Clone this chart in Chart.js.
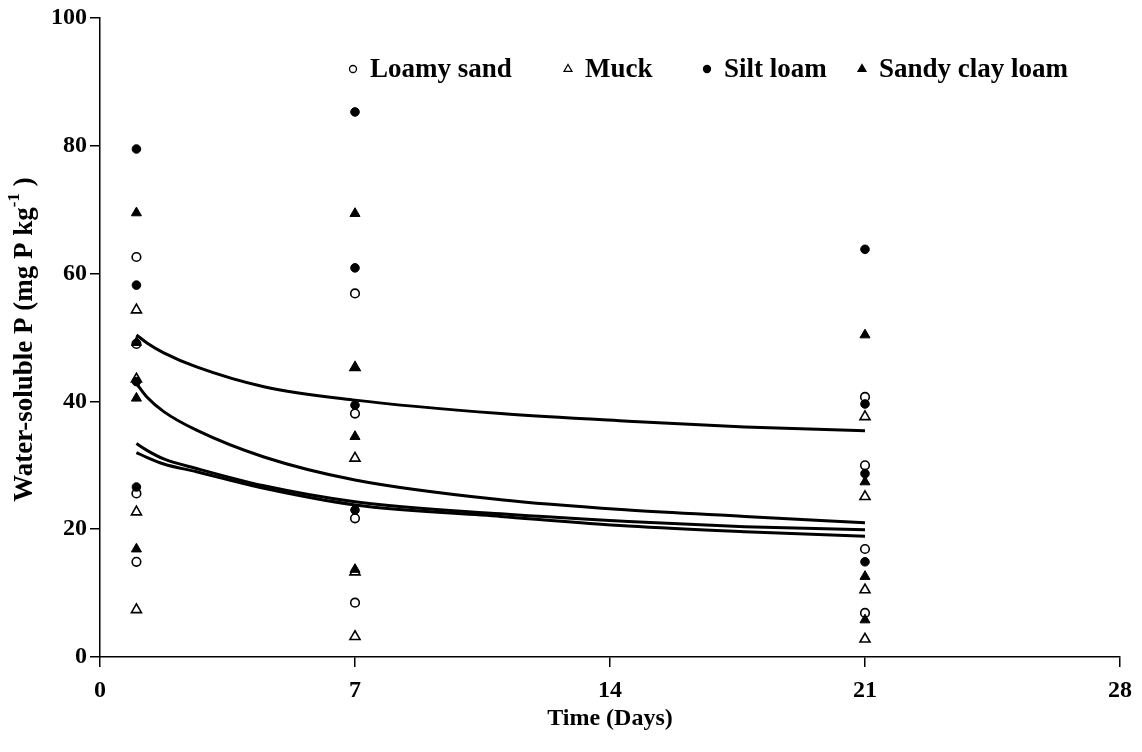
<!DOCTYPE html>
<html>
<head>
<meta charset="utf-8">
<title>Water-soluble P over time</title>
<script src="https://cdn.jsdelivr.net/npm/chart.js@4.4.1/dist/chart.umd.min.js"></script>
<style>
  html, body { margin: 0; padding: 0; background: #fff; }
  #wrap { width: 1142px; height: 752px; }
</style>
</head>
<body>
<div id="wrap"><canvas id="c" width="1142" height="752"></canvas></div>
<script>
// Sampling days
const days = [1, 7, 21];

// Replicate measurements (mg P kg-1) per soil, one array per sampling day
const loamySand1 = [62.6, 49.0, 25.6, 14.9];
const loamySand7 = [56.9, 38.1, 21.7, 8.5];
const loamySand21 = [40.7, 30.0, 16.9, 6.9];

const muck1 = [54.3, 43.5, 22.7, 7.4];
const muck7 = [45.3, 31.1, 13.3, 3.2];
const muck21 = [37.6, 25.1, 10.5, 2.8];

const siltLoam1 = [79.5, 58.2, 43.1, 26.6];
const siltLoam7 = [85.3, 60.9, 39.4, 23.0];
const siltLoam21 = [63.8, 39.6, 28.7, 14.9];

const sandyClayLoam1 = [69.5, 49.2, 40.5, 16.9];
const sandyClayLoam7 = [69.4, 45.3, 34.5, 13.7];
const sandyClayLoam21 = [50.4, 27.4, 12.6, 5.8];

// Fitted decline curves, sampled along the time axis
const curveDays = [1, 1.3, 1.75, 2.65, 4.5, 7, 11, 14.5, 17.7, 21];
const siltLoamCurve = [50.4, 49.1, 47.6, 45.4, 42.3, 40.2, 38.1, 36.9, 36.0, 35.4];
const sandyClayLoamCurve = [42.8, 40.6, 38.4, 35.5, 31.3, 27.7, 24.6, 23.0, 22.0, 21.0];
const loamySandCurve = [33.4, 32.3, 31.0, 29.5, 26.8, 24.3, 22.4, 21.2, 20.4, 19.9];
const muckCurve = [32.0, 31.2, 30.2, 29.0, 26.4, 23.8, 22.0, 20.5, 19.6, 18.9];

// Axis ticks
const xTicks = [0, 7, 14, 21, 28];
const yTicks = [0, 20, 40, 60, 80, 100];

const soilNames = ['Loamy sand', 'Muck', 'Silt loam', 'Sandy clay loam'];
const soilValues = [
  [loamySand1, loamySand7, loamySand21],
  [muck1, muck7, muck21],
  [siltLoam1, siltLoam7, siltLoam21],
  [sandyClayLoam1, sandyClayLoam7, sandyClayLoam21]
];
const curves = [loamySandCurve, muckCurve, siltLoamCurve, sandyClayLoamCurve];

const FONT = '"Liberation Serif", "Times New Roman", serif';
const markerStyles = [
  { shape: 'circle', filled: false },
  { shape: 'triangle', filled: false },
  { shape: 'circle', filled: true },
  { shape: 'triangle', filled: true }
];

function toPoints(xs, ys) {
  return xs.map((x, i) => ({ x: x, y: ys[i] }));
}

// Later soils are painted over earlier ones (higher order = drawn first)
const scatterSets = soilNames.map((name, i) => {
  const st = markerStyles[i];
  const pts = [];
  days.forEach((d, j) => soilValues[i][j].forEach(v => pts.push({ x: d, y: v })));
  const r = st.shape === 'circle' ? 4.3 : 5.8;
  return {
    type: 'scatter',
    label: name,
    data: pts,
    pointStyle: st.shape,
    pointRadius: r,
    pointHoverRadius: r,
    backgroundColor: st.filled ? '#000' : '#fff',
    borderColor: '#000',
    borderWidth: st.filled ? 1 : 1.6,
    order: 10 - i
  };
});

const curveSets = soilNames.map((name, i) => ({
  type: 'line',
  label: name + ' fit',
  data: toPoints(curveDays, curves[i]),
  borderColor: '#000',
  borderWidth: 3,
  pointRadius: 0,
  fill: false,
  cubicInterpolationMode: 'monotone',
  order: 0
}));

function drawMarker(ctx, st, x, y, r) {
  ctx.beginPath();
  if (st.shape === 'circle') {
    ctx.arc(x, y, r, 0, Math.PI * 2);
  } else {
    const R = r * 1.3;
    ctx.moveTo(x, y - R);
    ctx.lineTo(x + R * Math.sin(Math.PI * 2 / 3), y - R * Math.cos(Math.PI * 2 / 3));
    ctx.lineTo(x + R * Math.sin(Math.PI * 4 / 3), y - R * Math.cos(Math.PI * 4 / 3));
    ctx.closePath();
  }
  ctx.fillStyle = st.filled ? '#000' : '#fff';
  ctx.fill();
  ctx.lineWidth = 1.3;
  ctx.strokeStyle = '#000';
  ctx.stroke();
}

// Legend row drawn inside the plot area; marker offsets from the plot's left edge
const legendOffsets = [253, 468, 607, 762];
const soilLegend = {
  id: 'soilLegend',
  afterDraw(chart) {
    const ctx = chart.ctx;
    const area = chart.chartArea;
    ctx.save();
    ctx.font = 'bold 27px ' + FONT;
    ctx.textBaseline = 'middle';
    ctx.textAlign = 'left';
    const y = area.top + 51;
    soilNames.forEach((name, i) => {
      const x = area.left + legendOffsets[i];
      drawMarker(ctx, markerStyles[i], x, y, 3.5);
      ctx.fillStyle = '#000';
      ctx.fillText(name, x + 17, y + 1);
    });
    ctx.restore();
  }
};

// Rotated y-axis title with a superscript exponent
const yTitle = {
  id: 'yTitle',
  afterDraw(chart) {
    const ctx = chart.ctx;
    const area = chart.chartArea;
    const main = 'Water-soluble P (mg P kg';
    const sup = '-1';
    const tail = ' )';
    ctx.save();
    ctx.translate(25, (area.top + area.bottom) / 2 + 2);
    ctx.rotate(-Math.PI / 2);
    ctx.fillStyle = '#000';
    ctx.textBaseline = 'middle';
    const big = 'bold 27px ' + FONT;
    const small = 'bold 17px ' + FONT;
    ctx.font = big;
    const w1 = ctx.measureText(main).width;
    const w3 = ctx.measureText(tail).width;
    ctx.font = small;
    const w2 = ctx.measureText(sup).width;
    let x = -(w1 + w2 + w3) / 2;
    ctx.textAlign = 'left';
    ctx.font = big;
    ctx.fillText(main, x, 0);
    x += w1;
    ctx.font = small;
    ctx.fillText(sup, x, -10);
    x += w2;
    ctx.font = big;
    ctx.fillText(tail, x, 0);
    ctx.restore();
  }
};

Chart.defaults.font.family = FONT;
Chart.defaults.color = '#000';

new Chart(document.getElementById('c'), {
  data: { datasets: curveSets.concat(scatterSets) },
  options: {
    responsive: false,
    devicePixelRatio: 1,
    animation: false,
    layout: { padding: { top: 18, right: 22, left: 0, bottom: 0 } },
    plugins: {
      legend: { display: false },
      tooltip: { enabled: false }
    },
    scales: {
      x: {
        type: 'linear',
        min: xTicks[0],
        max: xTicks[xTicks.length - 1],
        afterBuildTicks(scale) { scale.ticks = xTicks.map(v => ({ value: v })); },
        afterFit(scale) { scale.height = 95; },
        ticks: { font: { size: 24, weight: 'bold' }, color: '#000', padding: 9, maxRotation: 0 },
        grid: { drawOnChartArea: false, drawTicks: true, tickLength: 10, color: '#000', lineWidth: 1.5 },
        border: { color: '#000', width: 1.5 },
        title: {
          display: true,
          text: 'Time (Days)',
          font: { size: 24, weight: 'bold' },
          color: '#000',
          padding: { top: 0, bottom: 19 }
        }
      },
      y: {
        type: 'linear',
        min: yTicks[0],
        max: yTicks[yTicks.length - 1],
        afterBuildTicks(scale) { scale.ticks = yTicks.map(v => ({ value: v })); },
        afterFit(scale) { scale.width = 100; },
        ticks: { font: { size: 24, weight: 'bold' }, color: '#000', padding: 3 },
        grid: { drawOnChartArea: false, drawTicks: true, tickLength: 10, color: '#000', lineWidth: 1.5 },
        border: { color: '#000', width: 1.5 }
      }
    }
  },
  plugins: [soilLegend, yTitle]
});
</script>
</body>
</html>
